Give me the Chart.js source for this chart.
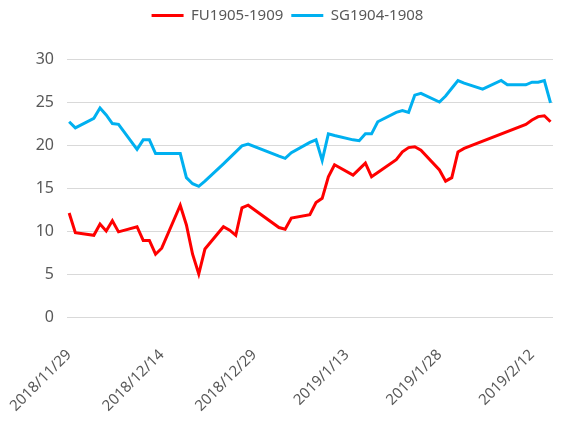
<!DOCTYPE html>
<html>
<head>
<meta charset="UTF-8">
<title>FU1905-1909 vs SG1904-1908</title>
<script src="https://cdn.jsdelivr.net/npm/chart.js"></script>
<style>
  html, body { margin: 0; padding: 0; background: #fff; }
</style>
</head>
<body>
<canvas id="spreadChart" width="563" height="423"></canvas>
<script>
const dates = [
  '2018/11/29', '2018/11/30',
  '2018/12/3', '2018/12/4', '2018/12/5', '2018/12/6', '2018/12/7',
  '2018/12/10', '2018/12/11', '2018/12/12', '2018/12/13', '2018/12/14',
  '2018/12/17', '2018/12/18', '2018/12/19', '2018/12/20', '2018/12/21',
  '2018/12/24', '2018/12/25', '2018/12/26', '2018/12/27', '2018/12/28',
  '2019/1/2', '2019/1/3', '2019/1/4',
  '2019/1/7', '2019/1/8', '2019/1/9', '2019/1/10', '2019/1/11',
  '2019/1/14', '2019/1/15', '2019/1/16', '2019/1/17', '2019/1/18',
  '2019/1/21', '2019/1/22', '2019/1/23', '2019/1/24', '2019/1/25',
  '2019/1/28', '2019/1/29', '2019/1/30', '2019/1/31', '2019/2/1',
  '2019/2/4', '2019/2/7', '2019/2/8',
  '2019/2/11', '2019/2/12', '2019/2/13', '2019/2/14', '2019/2/15'
];

const fuSpread = [
  12.1, 9.8,
  9.5, 10.8, 10.0, 11.2, 9.9,
  10.5, 8.9, 8.9, 7.3, 8.0,
  13.0, 10.7, 7.3, 5.0, 7.9,
  10.5, 10.1, 9.5, 12.7, 13.0,
  10.4, 10.2, 11.5,
  11.9, 13.3, 13.8, 16.3, 17.7,
  16.5, 17.2, 17.9, 16.3, 16.8,
  18.3, 19.2, 19.7, 19.8, 19.4,
  17.1, 15.8, 16.2, 19.2, 19.6,
  null, null, null,
  22.4, 22.9, 23.3, 23.4, 22.7
];

const sgSpread = [
  22.7, 22.0,
  23.1, 24.3, 23.5, 22.5, 22.4,
  19.5, 20.6, 20.6, 19.0, 19.0,
  19.0, 16.2, 15.5, 15.2, 15.8,
  17.8, null, 19.2, 19.9, 20.1,
  18.7, 18.45, 19.1,
  20.3, 20.6, 18.2, 21.3, 21.1,
  20.6, 20.5, 21.3, 21.3, 22.7,
  23.8, 24.0, 23.8, 25.8, 26.0,
  25.0, 25.7, 26.6, 27.5, 27.2,
  26.5, 27.5, 27.0,
  27.0, 27.3, 27.3, 27.5, 24.9
];

const tickLabels = ['2018/11/29', '2018/12/14', '2018/12/29', '2019/1/13', '2019/1/28', '2019/2/12'];

// days since the first date, so the x axis is a real date axis
function dayOffset(s) {
  const p = s.split('/').map(Number);
  const t = Date.UTC(p[0], p[1] - 1, p[2]);
  const p0 = dates[0].split('/').map(Number);
  return Math.round((t - Date.UTC(p0[0], p0[1] - 1, p0[2])) / 86400000);
}

function toPoints(values) {
  return dates.map((d, i) => ({ x: dayOffset(d), y: values[i] }));
}

const textColor = '#595959';
const gridColor = '#d9d9d9';
const fontFamily = "'Noto Sans', 'Open Sans', sans-serif";

// push the plot area down below the legend
const legendGap = {
  id: 'legendGap',
  beforeInit(chart) {
    const fit = chart.legend.fit;
    chart.legend.fit = function () {
      fit.call(this);
      this.height += 26;
    };
  }
};

new Chart(document.getElementById('spreadChart').getContext('2d'), {
  type: 'line',
  data: {
    datasets: [
      {
        label: 'FU1905-1909',
        data: toPoints(fuSpread),
        borderColor: '#ff0000',
        backgroundColor: '#ff0000',
        borderWidth: 3,
        pointRadius: 0,
        tension: 0,
        spanGaps: true
      },
      {
        label: 'SG1904-1908',
        data: toPoints(sgSpread),
        borderColor: '#00b0f0',
        backgroundColor: '#00b0f0',
        borderWidth: 3,
        pointRadius: 0,
        tension: 0,
        spanGaps: true
      }
    ]
  },
  plugins: [legendGap],
  options: {
    responsive: false,
    animation: false,
    devicePixelRatio: 1,
    layout: { padding: { top: 0, right: 0, left: 12, bottom: 0 } },
    plugins: {
      legend: {
        position: 'top',
        labels: {
          usePointStyle: true,
          pointStyle: 'line',
          pointStyleWidth: 32,
          color: textColor,
          padding: 8,
          font: { family: fontFamily, size: 15 }
        }
      },
      tooltip: { enabled: false }
    },
    scales: {
      x: {
        type: 'linear',
        min: -0.35,
        max: 78.4,
        grid: { display: false },
        border: { display: false },
        afterBuildTicks: (scale) => {
          scale.ticks = tickLabels.map(l => ({ value: dayOffset(l) }));
        },
        afterFit: (scale) => {
          scale.paddingLeft = 0;
          scale.paddingRight = 10;
          scale.height = 106;
        },
        ticks: {
          autoSkip: false,
          minRotation: 45,
          maxRotation: 45,
          padding: 21,
          color: textColor,
          font: { family: fontFamily, size: 15 },
          callback: (v) => tickLabels.find(l => dayOffset(l) === v) || ''
        }
      },
      y: {
        min: 0,
        max: 30,
        grid: { color: gridColor, lineWidth: 1, drawTicks: false },
        border: { display: false },
        afterFit: (scale) => { scale.width = 55; },
        ticks: {
          stepSize: 5,
          padding: 13,
          color: textColor,
          font: { family: fontFamily, size: 16 }
        }
      }
    }
  }
});
</script>
</body>
</html>
